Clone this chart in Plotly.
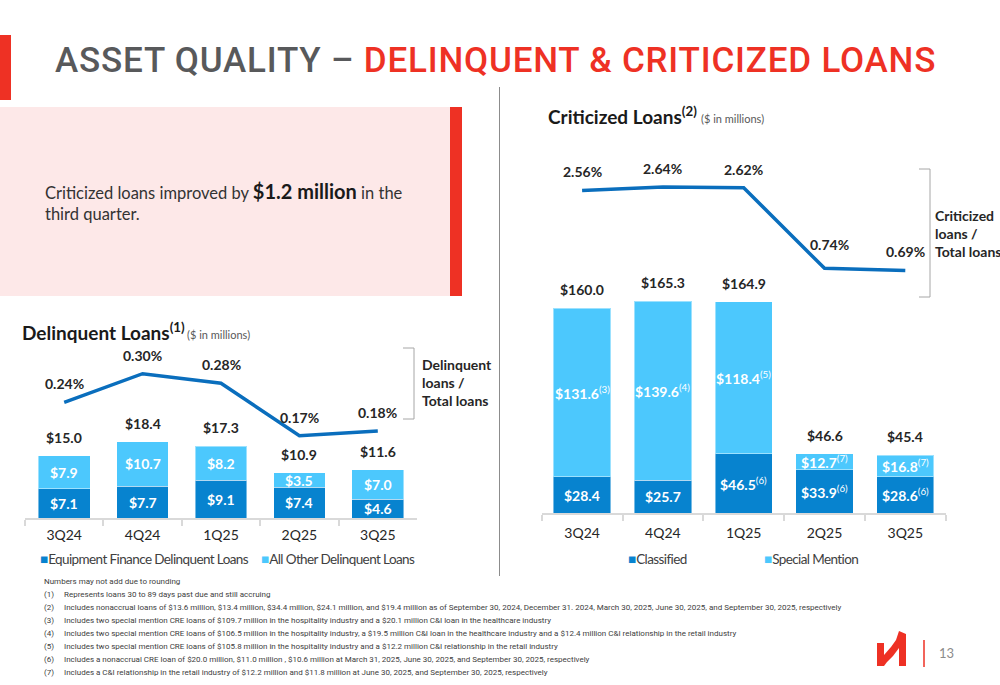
import plotly.graph_objects as go

W, H = 1000, 685
def px(x): return x / W
def py(y): return 1 - y / H

# ---------------- data ----------------
quarters = ["3Q24", "4Q24", "1Q25", "2Q25", "3Q25"]

del_equipment = [7.1, 7.7, 9.1, 7.4, 4.6]
del_other = [7.9, 10.7, 8.2, 3.5, 7.0]
del_total = [15.0, 18.4, 17.3, 10.9, 11.6]
del_ratio = [0.24, 0.30, 0.28, 0.17, 0.18]

crit_classified = [28.4, 25.7, 46.5, 33.9, 28.6]
crit_special = [131.6, 139.6, 118.4, 12.7, 16.8]
crit_total = [160.0, 165.3, 164.9, 46.6, 45.4]
crit_ratio = [2.56, 2.64, 2.62, 0.74, 0.69]
crit_classified_notes = ["", "", "(6)", "(6)", "(6)"]
crit_special_notes = ["(3)", "(4)", "(5)", "(7)", "(7)"]

name_del_eq = "Equipment Finance Delinquent Loans"
name_del_other = "All Other Delinquent Loans"
name_classified = "Classified"
name_special = "Special Mention"

footnote_head = "Numbers may not add due to rounding"
footnote_nums = ["(1)", "(2)", "(3)", "(4)", "(5)", "(6)", "(7)"]
footnote_texts = [
    "Represents loans 30 to 89 days past due and still accruing",
    "Includes nonaccrual loans of $13.6 million, $13.4 million, $34.4 million, $24.1 million, and $19.4 million as of September 30, 2024, December 31. 2024, March 30, 2025, June 30, 2025, and September 30, 2025, respectively",
    "Includes two special mention CRE loans of $109.7 million in the hospitality industry and a $20.1 million C&I loan in the healthcare industry",
    "Includes two special mention CRE loans of $106.5 million in the hospitality industry, a $19.5 million C&I loan in the healthcare industry and a $12.4 million C&I relationship in the retail industry",
    "Includes two special mention CRE loans of $105.8 million in the hospitality industry and a $12.2 million C&I relationship in the retail industry",
    "Includes a nonaccrual CRE loan of $20.0 million, $11.0 million , $10.6 million at March 31, 2025, June 30, 2025, and September 30, 2025, respectively",
    "Includes a C&I relationship in the retail industry of $12.2 million and $11.8 million at June 30, 2025, and September 30, 2025, respectively",
]

# ---------------- style ----------------
DARK = "#0783cf"
LIGHT = "#4cc8fd"
LINE = "#0a6ebd"
RED = "#ee3124"
GRAY = "#58595b"
TXT = "#262626"
FONT = "Lato, Roboto, sans-serif"
TFONT = "Roboto, sans-serif"

fig = go.Figure()

bar_line = dict(color="rgba(255,255,255,0.45)", width=1)

# Left: delinquent loans
fig.add_trace(go.Bar(x=quarters, y=del_equipment, name=name_del_eq, marker=dict(color=DARK, line=bar_line),
                     width=0.66, xaxis="x", yaxis="y", showlegend=False, hoverinfo="skip"))
fig.add_trace(go.Bar(x=quarters, y=del_other, name=name_del_other, marker=dict(color=LIGHT, line=bar_line),
                     width=0.66, xaxis="x", yaxis="y", showlegend=False, hoverinfo="skip"))
fig.add_trace(go.Scatter(x=quarters, y=del_ratio, mode="lines", line=dict(color=LINE, width=3.5),
                         xaxis="x", yaxis="y2", showlegend=False, hoverinfo="skip"))

# Right: criticized loans
fig.add_trace(go.Bar(x=quarters, y=crit_classified, name=name_classified, marker=dict(color=DARK, line=bar_line),
                     width=0.71, xaxis="x2", yaxis="y3", showlegend=False, hoverinfo="skip"))
fig.add_trace(go.Bar(x=quarters, y=crit_special, name=name_special, marker=dict(color=LIGHT, line=bar_line),
                     width=0.71, xaxis="x2", yaxis="y3", showlegend=False, hoverinfo="skip"))
fig.add_trace(go.Scatter(x=quarters, y=crit_ratio, mode="lines", line=dict(color=LINE, width=3.5),
                         xaxis="x2", yaxis="y4", showlegend=False, hoverinfo="skip"))

ann = []
def A(**kw):
    base = dict(showarrow=False, font=dict(family=FONT, size=14, color=TXT))
    base.update(kw)
    ann.append(base)

white = dict(family=FONT, size=14, color="white")
dark = dict(family=FONT, size=14, color=TXT)

for i, q in enumerate(quarters):
    A(x=q, y=del_equipment[i] / 2, xref="x", yref="y", text=f"<b>${del_equipment[i]:.1f}</b>", font=white)
    A(x=q, y=del_equipment[i] + del_other[i] / 2, xref="x", yref="y", text=f"<b>${del_other[i]:.1f}</b>", font=white)
    A(x=q, y=del_total[i], xref="x", yref="y", yanchor="bottom", yshift=8, text=f"<b>${del_total[i]:.1f}</b>", font=dark)
    A(x=q, y=del_ratio[i], xref="x", yref="y2", yanchor="bottom", yshift=8, text=f"<b>{del_ratio[i]:.2f}%</b>", font=dark)

    A(x=q, y=crit_classified[i] / 2, xref="x2", yref="y3",
      text=f"<b>${crit_classified[i]:.1f}</b>" + (f"<sup>{crit_classified_notes[i]}</sup>" if crit_classified_notes[i] else ""), font=white)
    A(x=q, y=crit_classified[i] + crit_special[i] / 2, xref="x2", yref="y3",
      text=f"<b>${crit_special[i]:.1f}</b><sup>{crit_special_notes[i]}</sup>", font=white)
    A(x=q, y=crit_total[i], xref="x2", yref="y3", yanchor="bottom", yshift=8, text=f"<b>${crit_total[i]:.1f}</b>", font=dark)
    # ratio labels: drop points get their label lifted a little more so it clears the falling line
    lift = 13 if (i > 0 and crit_ratio[i] < crit_ratio[i - 1] - 1) else 8
    A(x=q, y=crit_ratio[i], xref="x2", yref="y4", yanchor="bottom", yshift=lift,
      xshift=5 if lift > 8 else 0, text=f"<b>{crit_ratio[i]:.2f}%</b>", font=dark)

# Titles
A(x=px(53), y=py(60), xref="paper", yref="paper", xanchor="left", yanchor="middle",
  text=(f"<span style='letter-spacing:0.8px'><span style='color:{GRAY}'>ASSET QUALITY – </span>"
        f"<span style='color:{RED}'>DELINQUENT &amp; CRITICIZED LOANS</span></span>"),
  font=dict(family=TFONT, size=35, color=GRAY, weight=500))

A(x=px(43), y=py(202), xref="paper", yref="paper", xanchor="left", yanchor="middle", align="left",
  text="Criticized loans improved by <b><span style='font-size:20px;color:#1a1a1a'>$1.2 million</span></b> in the<br>third quarter.",
  font=dict(family=FONT, size=16.5, color="#333333"))

A(x=px(20), y=py(332), xref="paper", yref="paper", xanchor="left", yanchor="middle",
  text="<b>Delinquent Loans<sup>(1)</sup></b>", font=dict(family=FONT, size=19, color="#1a1a1a"))
A(x=px(185), y=py(335), xref="paper", yref="paper", xanchor="left", yanchor="middle",
  text="($ in millions)", font=dict(family=FONT, size=11, color="#595959"))

A(x=px(546), y=py(115), xref="paper", yref="paper", xanchor="left", yanchor="middle",
  text="<b>Criticized Loans<sup>(2)</sup></b>", font=dict(family=FONT, size=19, color="#1a1a1a"))
A(x=px(699), y=py(118), xref="paper", yref="paper", xanchor="left", yanchor="middle",
  text="($ in millions)", font=dict(family=FONT, size=11, color="#595959"))

# Bracket labels
A(x=px(420), y=py(382), xref="paper", yref="paper", xanchor="left", yanchor="middle", align="left",
  text="<b>Delinquent<br>loans /<br>Total loans</b>", font=dict(family=FONT, size=14, color=TXT))
A(x=px(933), y=py(233), xref="paper", yref="paper", xanchor="left", yanchor="middle", align="left",
  text="<b>Criticized<br>loans /<br>Total loans</b>", font=dict(family=FONT, size=14, color=TXT))

# Legends
leg_font = dict(family=FONT, size=13.5, color="#404040")
def leg(xp, color, name):
    A(x=px(xp), y=py(559), xref="paper", yref="paper", xanchor="left", yanchor="middle",
      text=f"<span style='color:{color}'>■</span><span style='letter-spacing:-0.6px'>{name}</span>", font=leg_font)
leg(38, DARK, name_del_eq)
leg(259, LIGHT, name_del_other)
leg(626, DARK, name_classified)
leg(762, LIGHT, name_special)

# Footnotes
fn_font = dict(family=TFONT, size=8.0, color="#404040")
A(x=px(42), y=py(581), xref="paper", yref="paper", xanchor="left", yanchor="middle", align="left",
  text=footnote_head, font=fn_font)
for i, (num, txt) in enumerate(zip(footnote_nums, footnote_texts)):
    yy = 594 + 13 * i
    A(x=px(42), y=py(yy), xref="paper", yref="paper", xanchor="left", yanchor="middle", text=num, font=fn_font)
    A(x=px(62), y=py(yy), xref="paper", yref="paper", xanchor="left", yanchor="middle", text=txt, font=fn_font)

# Page number
A(x=px(946), y=py(653), xref="paper", yref="paper", xanchor="center", yanchor="middle",
  text="13", font=dict(family=FONT, size=13, color="#8c8c8c"))

def path(points, close=True):
    s = "M" + " L".join(f"{px(x):.5f},{py(y):.5f}" for x, y in points)
    return s + (" Z" if close else "")

shapes = [
    # red tab
    dict(type="rect", xref="paper", yref="paper", x0=px(-6), x1=px(11), y0=py(100), y1=py(35),
         fillcolor=RED, line=dict(width=0), layer="below"),
    # pink callout
    dict(type="rect", xref="paper", yref="paper", x0=px(0), x1=px(452), y0=py(296), y1=py(107),
         fillcolor="#fde8e8", line=dict(width=0), layer="below"),
    dict(type="rect", xref="paper", yref="paper", x0=px(450), x1=px(462), y0=py(296), y1=py(107),
         fillcolor=RED, line=dict(width=0), layer="below"),
    # divider
    dict(type="line", xref="paper", yref="paper", x0=px(499.5), x1=px(499.5), y0=py(87), y1=py(576),
         line=dict(color="#8c8c8c", width=1)),
    # brackets
    dict(type="path", xref="paper", yref="paper",
         path=path([(403, 348), (414, 348), (414, 419), (403, 419)], close=False),
         line=dict(color="#a6a6a6", width=1)),
    dict(type="path", xref="paper", yref="paper",
         path=path([(919, 169), (930, 169), (930, 297), (919, 297)], close=False),
         line=dict(color="#a6a6a6", width=1)),
    # logo
    dict(type="path", xref="paper", yref="paper",
         path=path([(877, 643), (884, 643), (884, 655), (891, 647), (896, 640), (899, 631), (906, 634),
                    (906, 666), (899, 666), (899, 648), (893, 656), (887, 662), (884, 666), (877, 666)]),
         fillcolor=RED, line=dict(width=0)),
    dict(type="line", xref="paper", yref="paper", x0=px(924), x1=px(924), y0=py(640), y1=py(667),
         line=dict(color=RED, width=1.5)),
]

xcommon = dict(type="category", showline=True, linecolor="#d9d9d9", linewidth=1.5,
               ticks="outside", tickson="boundaries", ticklen=6, tickcolor="#d9d9d9", tickwidth=1.5,
               showgrid=False, zeroline=False, tickfont=dict(family=FONT, size=14, color=TXT),
               fixedrange=True)
ycommon = dict(visible=False, showgrid=False, zeroline=False, fixedrange=True)

# left geometry (pixels)
L_base, L_top = 518.3, 340.0
L_scale = 4.17     # px per $M
L_rscale = 485.0   # px per %
L_rzero = 519.7
# right geometry (pixels)
R_base, R_top = 513.3, 150.0
R_scale = 1.283
R_rscale = 42.8
R_rzero = 300.0

fig.update_layout(
    width=W, height=H, margin=dict(l=0, r=0, t=0, b=0),
    paper_bgcolor="white", plot_bgcolor="rgba(0,0,0,0)",
    barmode="stack", bargap=0.3,
    xaxis=dict(domain=[px(25), px(417)], anchor="y", ticklabelstandoff=3, **xcommon),
    yaxis=dict(domain=[py(L_base), py(L_top)], range=[0, (L_base - L_top) / L_scale], anchor="x", **ycommon),
    yaxis2=dict(overlaying="y", anchor="x",
                range=[-(L_rzero - L_base) / L_rscale, (L_rzero - L_top) / L_rscale], **ycommon),
    xaxis2=dict(domain=[px(541.7), px(945.7)], anchor="y3", ticklabelstandoff=6, **xcommon),
    yaxis3=dict(domain=[py(R_base), py(R_top)], range=[0, (R_base - R_top) / R_scale], anchor="x2", **ycommon),
    yaxis4=dict(overlaying="y3", anchor="x2",
                range=[-(R_base - R_rzero) / R_rscale, (R_rzero - R_top) / R_rscale], **ycommon),
    annotations=ann,
    shapes=shapes,
    showlegend=False,
)

fig.write_html("out.html", config={"displayModeBar": False},
               post_script="document.body.style.margin='0';")
